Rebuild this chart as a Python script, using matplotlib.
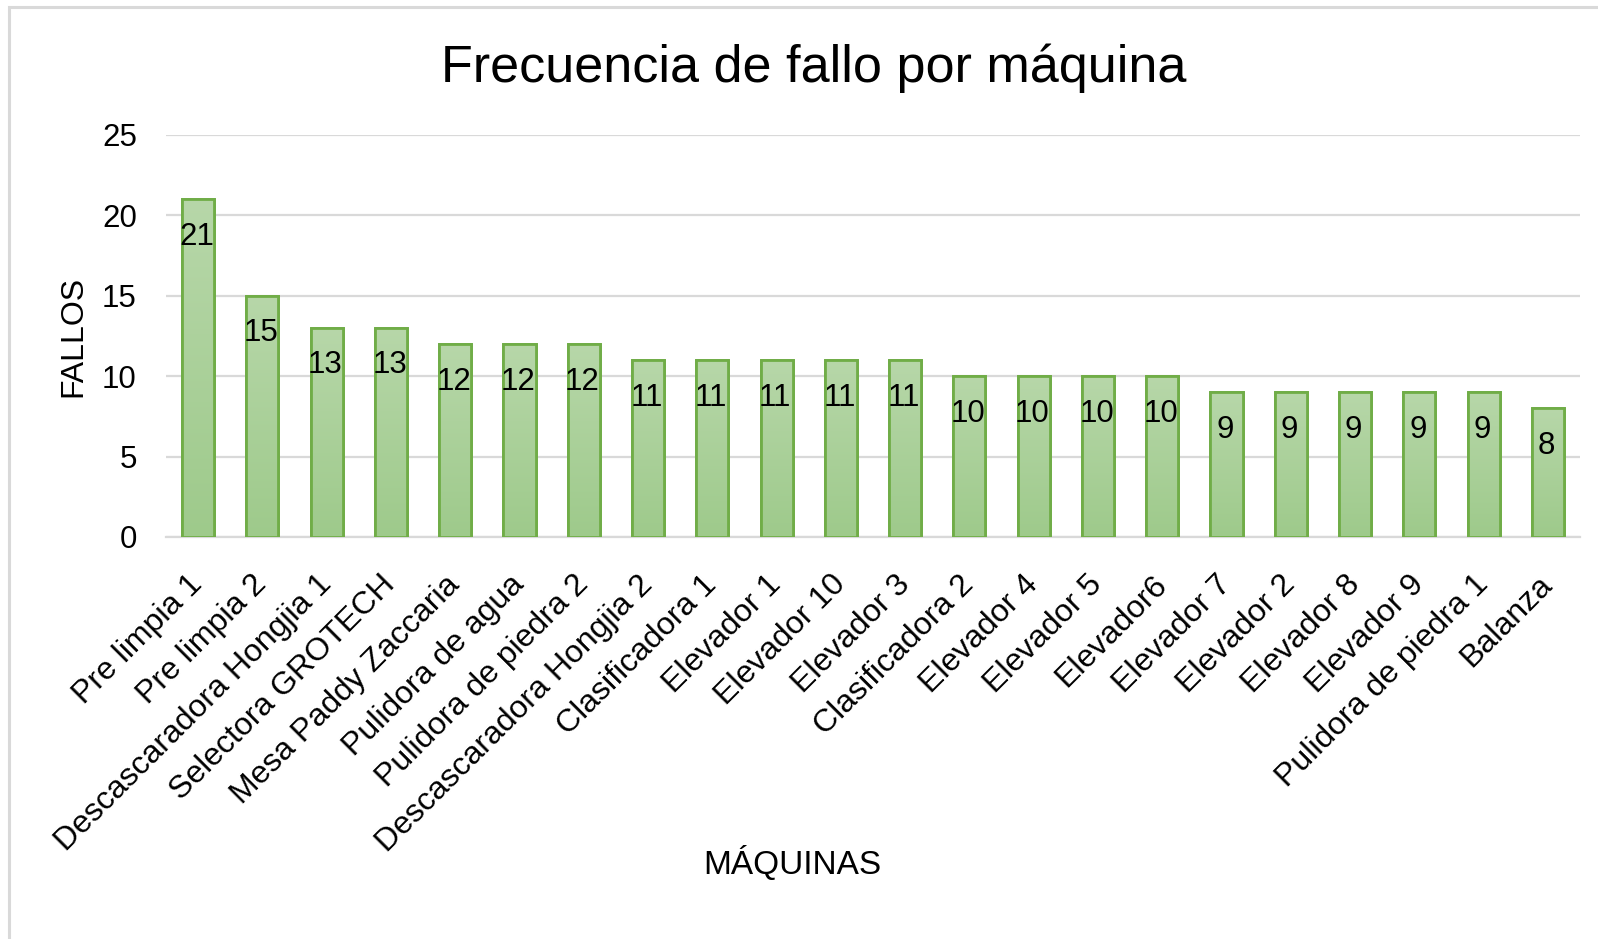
import numpy as np
import matplotlib
matplotlib.use('Agg')
import matplotlib.pyplot as plt
import matplotlib.transforms as mtransforms
from matplotlib.patches import Rectangle

plt.rcParams['font.family'] = ['Liberation Sans', 'DejaVu Sans']

# Datos
maquinas = [
    'Pre limpia 1', 'Pre limpia 2', 'Descascaradora Hongjia 1', 'Selectora GROTECH',
    'Mesa Paddy Zaccaria', 'Pulidora de agua', 'Pulidora de piedra 2',
    'Descascaradora Hongjia 2', 'Clasificadora 1', 'Elevador 1', 'Elevador 10',
    'Elevador 3', 'Clasificadora 2', 'Elevador 4', 'Elevador 5', 'Elevador6',
    'Elevador 7', 'Elevador 2', 'Elevador 8', 'Elevador 9', 'Pulidora de piedra 1',
    'Balanza'
]
fallos = [21, 15, 13, 13, 12, 12, 12, 11, 11, 11, 11, 11, 10, 10, 10, 10, 9, 9, 9, 9, 9, 8]
y_ticks = [0, 5, 10, 15, 20, 25]

W, H = 1598, 939
fig = plt.figure(figsize=(W / 100, H / 100), dpi=100)
fig.patch.set_facecolor('white')

# marco gris del área del gráfico
fig.patches.append(Rectangle((9 / W, -0.1), 2.0, 1.1 - 7 / H, transform=fig.transFigure,
                             fill=False, edgecolor='#d9d9d9', linewidth=2.2))

ax = fig.add_axes([166 / W, 1 - 537 / H, (1580 - 166) / W, (537 - 135) / H])
x = np.arange(len(maquinas))

bars = ax.bar(x, fallos, width=0.5, color='#abd09b', edgecolor='#70ad47',
              linewidth=2, zorder=3)

# degradado vertical dentro de cada barra
grad = np.linspace(0, 1, 256).reshape(-1, 1)
top_c = np.array([183, 215, 169]) / 255
bot_c = np.array([158, 202, 139]) / 255
img = top_c * (1 - grad[..., None]) + bot_c * grad[..., None]
img = img.reshape(256, 1, 3)
for b in bars:
    x0, w, h = b.get_x(), b.get_width(), b.get_height()
    im = ax.imshow(img, extent=[x0, x0 + w, 0, h], aspect='auto', zorder=3.5,
                   origin='upper')
    im.set_clip_path(b)
    ax.add_patch(Rectangle((x0, 0), w, h, fill=False, edgecolor='#70ad47',
                           linewidth=2, zorder=4))

for xi, v in zip(x, fallos):
    ax.annotate(str(v), (xi, v), xytext=(-1, -27), textcoords='offset points',
                ha='center', va='center', fontsize=22.5, color='black', zorder=5)

ax.set_xlim(-0.5, len(maquinas) - 0.5)
ax.set_ylim(0, 25)
ax.set_yticks(y_ticks)
ax.set_xticks(x)
ax.set_xticklabels(maquinas, rotation=45, ha='right', va='center',
                   rotation_mode='anchor', fontsize=23)
offset = mtransforms.ScaledTranslation(-6 / 72, 0, fig.dpi_scale_trans)
for lbl in ax.get_xticklabels():
    lbl.set_transform(lbl.get_transform() + offset)
ax.tick_params(axis='x', length=0, pad=31)
ax.tick_params(axis='y', length=0, pad=21, labelsize=22.5)
ax.grid(axis='y', color='#d9d9d9', linewidth=1.6, zorder=0)
ax.set_axisbelow(True)
for s in ['top', 'right', 'left']:
    ax.spines[s].set_visible(False)
ax.spines['bottom'].set_color('#d9d9d9')
ax.spines['bottom'].set_linewidth(1.6)

fig.text(814 / W, 1 - 82 / H, 'Frecuencia de fallo por máquina', ha='center',
         va='baseline', fontsize=37.5)
fig.text(73 / W, 1 - 336 / H, 'FALLOS', rotation=90, ha='center', va='center',
         fontsize=23)
fig.text(792 / W, 1 - 864 / H, 'MÁQUINAS', ha='center', va='center', fontsize=24)

fig.savefig('out.png', dpi=100)
